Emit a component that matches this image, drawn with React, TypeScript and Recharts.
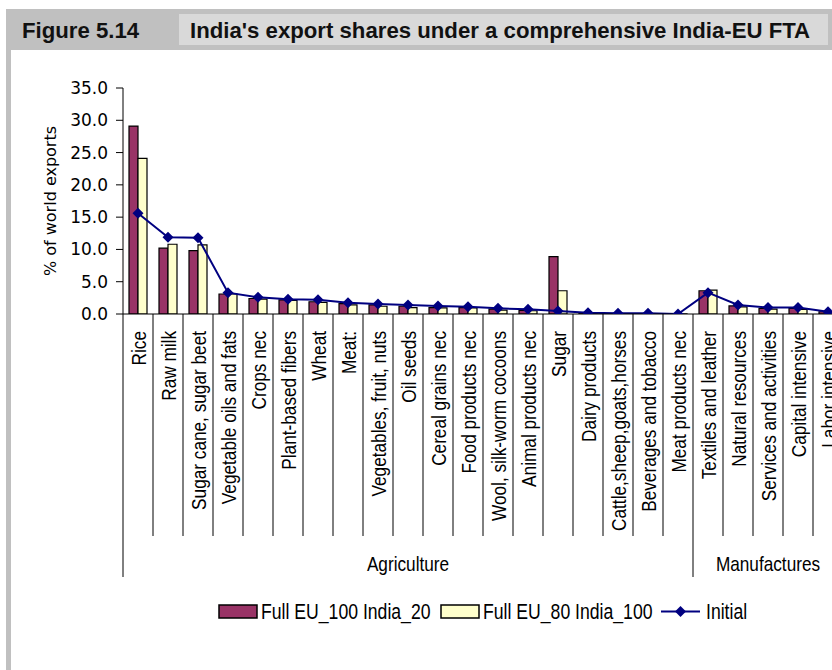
import React from 'react';
import { ComposedChart, Bar, Line, XAxis, YAxis } from 'recharts';

const categories = [
  'Rice', 'Raw milk', 'Sugar cane, sugar beet', 'Vegetable oils and fats', 'Crops nec',
  'Plant-based fibers', 'Wheat', 'Meat:', 'Vegetables, fruit, nuts', 'Oil seeds',
  'Cereal grains nec', 'Food products nec', 'Wool, silk-worm cocoons', 'Animal products nec',
  'Sugar', 'Dairy products', 'Cattle,sheep,goats,horses', 'Beverages and tobacco',
  'Meat products nec', 'Textiles and leather', 'Natural resources', 'Services and activities',
  'Capital intensive', 'Labor intensive',
];
const groupNames = ['Agriculture', 'Manufactures'];
const groupSizes = [19, 5];

const fullEU100India20 = [29.1, 10.2, 9.8, 3.1, 2.4, 2.2, 1.9, 1.6, 1.4, 1.2, 1.0, 1.0, 0.75, 0.55, 8.9, 0.2, 0.05, 0.05, 0.03, 3.6, 1.25, 0.85, 0.85, 0.35];
const fullEU80India100 = [24.1, 10.8, 10.7, 3.1, 2.3, 2.1, 1.8, 1.4, 1.2, 1.0, 0.95, 0.95, 0.6, 0.5, 3.6, 0.15, 0.05, 0.05, 0.02, 3.7, 1.1, 0.75, 0.7, 0.3];
const initial = [15.6, 11.9, 11.8, 3.3, 2.6, 2.3, 2.2, 1.75, 1.55, 1.4, 1.24, 1.14, 0.88, 0.72, 0.46, 0.2, 0.1, 0.1, 0.0, 3.3, 1.4, 1.0, 1.0, 0.36];
const yTicks = [0, 5, 10, 15, 20, 25, 30, 35];

const seriesNames = ['Full EU_100 India_20', 'Full EU_80 India_100', 'Initial'];

const data = categories.map((name, i) => ({
  name,
  a: fullEU100India20[i],
  b: fullEU80India100[i],
  init: initial[i],
}));

const MAROON = '#993366';
const CREAM = '#FFFFCC';
const NAVY = '#000080';

const CHART_W = 848;
const CHART_H = 670;
const M = { top: 88, right: 5, left: 0, bottom: 66 };
const Y_AXIS_W = 123;
const PLOT_LEFT = M.left + Y_AXIS_W;
const PLOT_RIGHT = CHART_W - M.right;
const PLOT_BOTTOM = 314;
const X_AXIS_H = CHART_H - M.bottom - PLOT_BOTTOM;
const BAND = (PLOT_RIGHT - PLOT_LEFT) / categories.length;

const groupStarts: number[] = [];
{
  let s = 0;
  groupSizes.forEach((n) => { groupStarts.push(s); s += n; });
}

const SANS = "'Liberation Sans', Arial, sans-serif";
const WIDE = "'DejaVu Sans', Verdana, sans-serif";
const NARROW_SCALE = 0.82;

const CategoryTick = (props: any) => {
  const { x, index, payload } = props;
  const left = x - BAND / 2;
  const gi = groupStarts.indexOf(index);
  const isStart = gi >= 0;
  const isLast = index === categories.length - 1;
  return (
    <g>
      <line x1={left} x2={left} y1={PLOT_BOTTOM} y2={isStart ? 577 : 536} stroke="#000" strokeWidth={1} />
      {isLast && (
        <line x1={left + BAND} x2={left + BAND} y1={PLOT_BOTTOM} y2={577} stroke="#000" strokeWidth={1} />
      )}
      <text
        transform={`translate(${x + 7.5}, 331) rotate(-90) scale(${NARROW_SCALE}, 1)`}
        textAnchor="end"
        fontFamily={SANS}
        fontSize={21}
        fill="#000"
      >
        {payload.value}
      </text>
      {isStart && (
        <text
          transform={`translate(${left + (groupSizes[gi] * BAND) / 2}, 571) scale(${NARROW_SCALE}, 1)`}
          textAnchor="middle"
          fontFamily={SANS}
          fontSize={21}
          fill="#000"
        >
          {groupNames[gi]}
        </text>
      )}
    </g>
  );
};

const Diamond = (props: any) => {
  const { cx, cy } = props;
  if (cx == null || cy == null) return null;
  const r = 5.5;
  return <path d={`M${cx},${cy - r} L${cx + r},${cy} L${cx},${cy + r} L${cx - r},${cy} Z`} fill={NAVY} />;
};

const YLabel = () => (
  <text
    transform="translate(56, 201) rotate(-90)"
    textAnchor="middle"
    fontFamily={WIDE}
    fontSize={16}
    fill="#000"
  >
    % of world exports
  </text>
);

const LEG_FS = 21.5;
const legendItems = [
  { kind: 'box', color: MAROON, boxX: 219, textX: 261, label: seriesNames[0] },
  { kind: 'box', color: CREAM, boxX: 441, textX: 483, label: seriesNames[1] },
  { kind: 'line', color: NAVY, boxX: 661, textX: 706, label: seriesNames[2] },
];

const Legend = () => (
  <svg width={832} height={40} style={{ position: 'absolute', left: 0, top: 592 }}>
    {legendItems.map((it) => (
      <g key={it.label}>
        {it.kind === 'box' ? (
          <rect x={it.boxX} y={13} width={38} height={13} fill={it.color} stroke="#000" strokeWidth={1.5} />
        ) : (
          <g>
            <line x1={it.boxX} x2={it.boxX + 39} y1={19.5} y2={19.5} stroke={it.color} strokeWidth={2} />
            <path
              d={`M${it.boxX + 19.5},${14} L${it.boxX + 25},${19.5} L${it.boxX + 19.5},${25} L${it.boxX + 14},${19.5} Z`}
              fill={it.color}
            />
          </g>
        )}
        <text
          transform={`translate(${it.textX}, 27) scale(${NARROW_SCALE}, 1)`}
          fontFamily={SANS}
          fontSize={LEG_FS}
          fill="#000"
        >
          {it.label}
        </text>
      </g>
    ))}
  </svg>
);

export default function App() {
  return (
    <div style={{ position: 'relative', width: 832, height: 670, overflow: 'hidden', background: '#fff' }}>
      <style>{'body{margin:0}'}</style>
      <div style={{ position: 'absolute', left: 6, top: 9, width: 826, height: 41, background: '#c0c0c0' }} />
      <div style={{ position: 'absolute', left: 179, top: 14, width: 649, height: 31, background: '#d9d9d9' }} />
      <div style={{ position: 'absolute', left: 6, top: 50, width: 5, height: 620, background: '#c0c0c0' }} />
      <div
        style={{
          position: 'absolute', left: 22, top: 16.5, fontFamily: SANS,
          fontWeight: 'bold', fontSize: 22.2, color: '#111', lineHeight: '28px', whiteSpace: 'nowrap',
        }}
      >
        Figure 5.14
      </div>
      <div
        style={{
          position: 'absolute', left: 190, top: 16.5, fontFamily: SANS,
          fontWeight: 'bold', fontSize: 22.2, color: '#111', lineHeight: '28px', whiteSpace: 'nowrap',
        }}
      >
        India's export shares under a comprehensive India-EU FTA
      </div>
      <div style={{ position: 'absolute', left: 0, top: 0 }}>
        <ComposedChart
          width={CHART_W}
          height={CHART_H}
          data={data}
          margin={M}
          barCategoryGap="20%"
          barGap={0}
        >
          <XAxis
            dataKey="name"
            interval={0}
            tickLine={false}
            axisLine={{ stroke: '#000', strokeWidth: 1 }}
            height={X_AXIS_H}
            tick={<CategoryTick />}
          />
          <YAxis
            width={Y_AXIS_W}
            domain={[0, 35]}
            ticks={yTicks}
            interval={0}
            allowDataOverflow
            tickFormatter={(v: number) => v.toFixed(1)}
            tickSize={7}
            tickMargin={8}
            axisLine={{ stroke: '#000', strokeWidth: 1 }}
            tickLine={{ stroke: '#000', strokeWidth: 1 }}
            tick={{ fontFamily: WIDE, fontSize: 17, fill: '#000' }}
            label={<YLabel />}
          />
          <Bar dataKey="a" name={seriesNames[0]} fill={MAROON} stroke="#000" strokeWidth={1.2} isAnimationActive={false} />
          <Bar dataKey="b" name={seriesNames[1]} fill={CREAM} stroke="#000" strokeWidth={1.2} isAnimationActive={false} />
          <Line
            dataKey="init"
            name={seriesNames[2]}
            type="linear"
            stroke={NAVY}
            strokeWidth={2}
            dot={<Diamond />}
            activeDot={false}
            isAnimationActive={false}
          />
        </ComposedChart>
      </div>
      <Legend />
    </div>
  );
}
